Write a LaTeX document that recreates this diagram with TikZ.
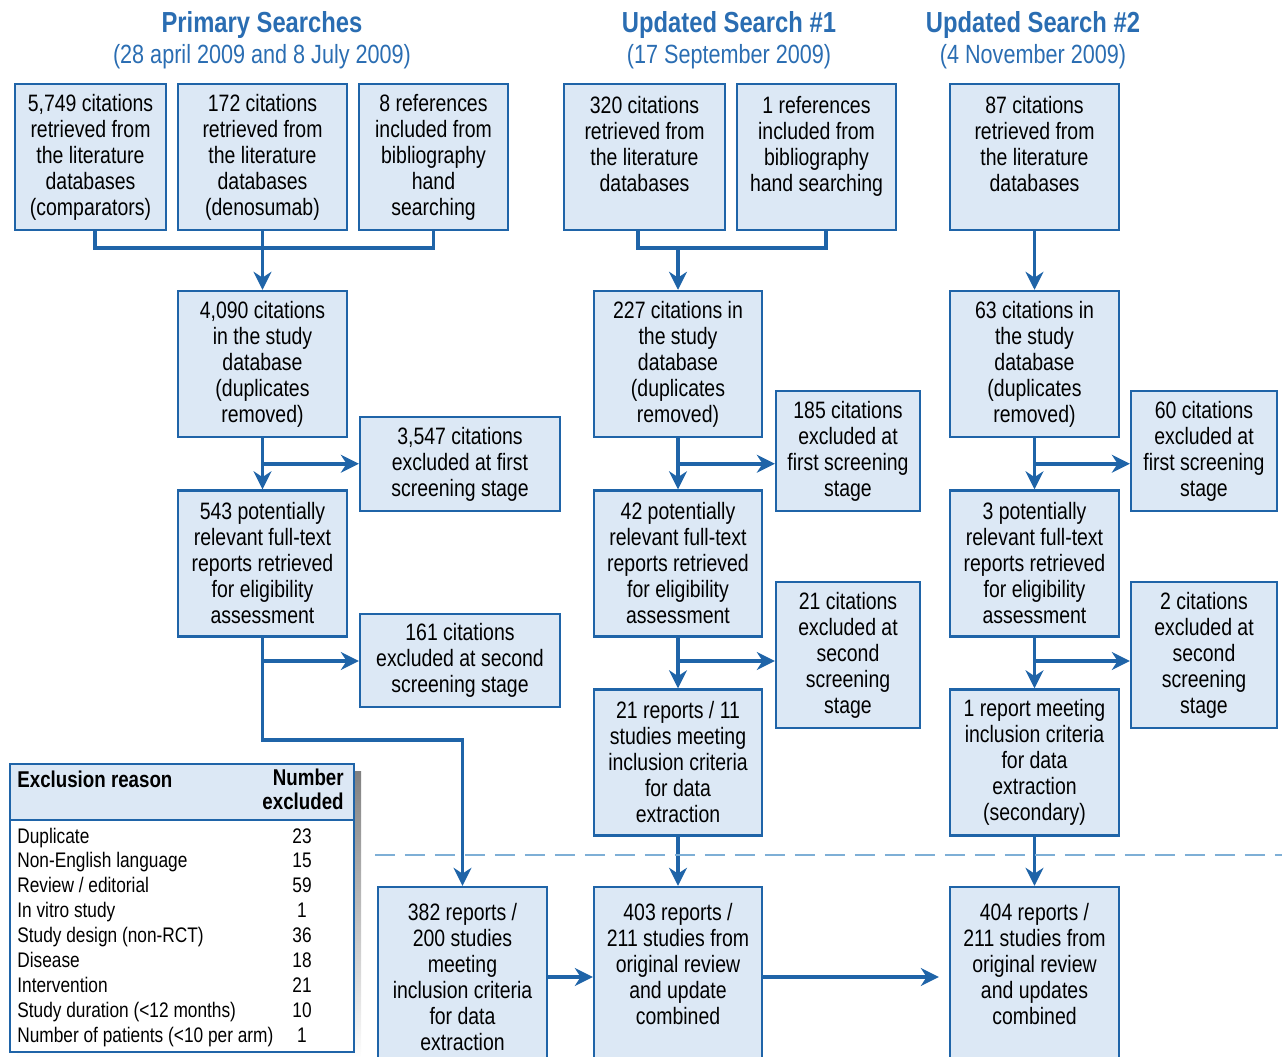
\documentclass[tikz,border=0pt]{standalone}
\usepackage{fontspec}
\setmainfont{Liberation Sans}[FakeStretch=0.82]
\usetikzlibrary{arrows.meta,calc}
\definecolor{boxfill}{HTML}{DCE8F5}
\definecolor{boxline}{HTML}{1F64A8}
\definecolor{headblue}{HTML}{2A6DB2}
\definecolor{dashblue}{HTML}{7EAFD6}
\definecolor{shade}{HTML}{7FA6CC}
\begin{document}
\begin{tikzpicture}[x=0.02cm,y=-0.02cm,
    stage/.style={draw=boxline,fill=boxfill,line width=1.4pt,align=center,inner sep=2pt,
      minimum height=2.92cm,font=\fontsize{13.5pt}{14.8pt}\selectfont},
    flow/.style={draw=boxline,line width=2pt},
    arr/.style={flow,-{Stealth[length=0.36cm,width=0.36cm]}},
    heading/.style={text=headblue,font=\bfseries\fontsize{16.5pt}{18pt}\selectfont},
    subheading/.style={text=headblue,font=\fontsize{15pt}{17pt}\selectfont},
    tabhead/.style={inner sep=0pt,font=\bfseries\fontsize{13pt}{13.7pt}\selectfont},
    tabrow/.style={inner sep=0pt,font=\fontsize{12pt}{13pt}\selectfont}]
  \useasboundingbox (0,0) rectangle (1282,1057);
  \node[heading] (hA) at (262,25) {Primary Searches};
  \node[subheading] (sA) at (262,57) {(28 april 2009 and 8 July 2009)};
  \node[heading] (hB) at (729,25) {Updated Search \#1};
  \node[subheading] (sB) at (729,57) {(17 September 2009)};
  \node[heading] (hC) at (1033,25) {Updated Search \#2};
  \node[subheading] (sC) at (1033,57) {(4 November 2009)};

  \node[stage,minimum width=3.02cm] (A1) at (90.5,157) {5,749 citations\\retrieved from\\the literature\\databases\\(comparators)};
  \node[stage,minimum width=3.38cm] (A2) at (262.5,157) {172 citations\\retrieved from\\the literature\\databases\\(denosumab)};
  \node[stage,minimum width=2.98cm] (A3) at (433.5,157) {8 references\\included from\\bibliography\\hand\\searching};
  \node[stage,minimum width=3.22cm] (B1) at (644.5,157) {320 citations\\retrieved from\\the literature\\databases\\\mbox{}};
  \node[stage,minimum width=3.18cm] (B2) at (816.5,157) {1 references\\included from\\bibliography\\hand searching\\\mbox{}};
  \node[stage,minimum width=3.38cm] (C1) at (1034.5,157) {87 citations\\retrieved from\\the literature\\databases\\\mbox{}};

  \node[stage,minimum width=3.38cm] (A4) at (262.5,364) {4,090 citations\\in the study\\database\\(duplicates\\removed)};
  \node[stage,minimum width=3.36cm] (B3) at (678,364) {227 citations in\\the study\\database\\(duplicates\\removed)};
  \node[stage,minimum width=3.38cm] (C2) at (1034.5,364) {63 citations in\\the study\\database\\(duplicates\\removed)};

  \node[stage,minimum width=4cm,minimum height=1.88cm] (A5) at (460,464) {3,547 citations\\excluded at first\\screening stage};
  \node[stage,minimum width=2.88cm,minimum height=2.4cm] (B4) at (848,451) {185 citations\\excluded at\\first screening\\stage};
  \node[stage,minimum width=2.92cm,minimum height=2.4cm] (C3) at (1204,451) {60 citations\\excluded at\\first screening\\stage};

  \node[stage,minimum width=3.38cm] (A6) at (262.5,563.5) {543 potentially\\relevant full-text\\reports retrieved\\for eligibility\\assessment};
  \node[stage,minimum width=3.36cm] (B5) at (678,563.5) {42 potentially\\relevant full-text\\reports retrieved\\for eligibility\\assessment};
  \node[stage,minimum width=3.38cm] (C4) at (1034.5,563.5) {3 potentially\\relevant full-text\\reports retrieved\\for eligibility\\assessment};

  \node[stage,minimum width=4cm,minimum height=1.86cm] (A7) at (460,660.5) {161 citations\\excluded at second\\screening stage};
  \node[stage,minimum width=2.88cm] (B6) at (848,655) {21 citations\\excluded at\\second\\screening\\stage};
  \node[stage,minimum width=2.92cm] (C5) at (1204,655) {2 citations\\excluded at\\second\\screening\\stage};

  \node[stage,minimum width=3.36cm] (B7) at (678,762.5) {21 reports / 11\\studies meeting\\inclusion criteria\\for data\\extraction};
  \node[stage,minimum width=3.38cm] (C6) at (1034.5,762.5) {1 report meeting\\inclusion criteria\\for data\\extraction\\(secondary)};

  \node[stage,minimum width=3.38cm,minimum height=3.6cm] (D1) at (462.5,977) {382 reports /\\200 studies\\meeting\\inclusion criteria\\for data\\extraction};
  \node[stage,minimum width=3.36cm,minimum height=3.6cm] (D2) at (678,977) {403 reports /\\211 studies from\\original review\\and update\\combined\\\mbox{}};
  \node[stage,minimum width=3.38cm,minimum height=3.6cm] (D3) at (1034.5,977) {404 reports /\\211 studies from\\original review\\and updates\\combined\\\mbox{}};

  \coordinate (jA) at (262.5,248);
  \coordinate (jB) at (678,248);
  \coordinate (a1) at ($(A4.south)!.5!(A6.north)$);
  \coordinate (b1) at ($(B3.south)!.5!(B5.north)$);
  \coordinate (c1) at ($(C2.south)!.5!(C4.north)$);
  \coordinate (a2) at (262.5,661);
  \coordinate (b2) at (678,661);
  \coordinate (c2) at (1034.5,661);
  \coordinate (bendA) at (462.5,740);

  \begin{scope}[arr]
    \draw[flow,-] ([xshift=0.09cm]A1.south) |- (jA) -| (A3.south);
    \draw (A2.south) to (A4.north);
    \draw[flow,-] ([xshift=-0.13cm]B1.south) |- (jB) -| ([xshift=0.19cm]B2.south);
    \draw (jB) to (B3.north);
    \draw (C1.south) to (C2.north);
    \draw (A4.south) to (A6.north);
    \draw (B3.south) to (B5.north);
    \draw (C2.south) to (C4.north);
    \draw (a1) to (a1 -| A5.west);
    \draw (b1) to (b1 -| B4.west);
    \draw (c1) to (c1 -| C3.west);
    \draw (A6.south) |- (bendA) -- (D1.north);
    \draw (B5.south) to (B7.north);
    \draw (C4.south) to (C6.north);
    \draw (a2) to (a2 -| A7.west);
    \draw (b2) to (b2 -| B6.west);
    \draw (c2) to (c2 -| C5.west);
    \draw (B7.south) to (D2.north);
    \draw (C6.south) to (D3.north);
    \draw (D1.east) to (D2.west);
    \draw[shorten >=0.2cm] (D2.east) to (D3.west);
  \end{scope}

  \draw[dashblue,line width=1.3pt,dash pattern=on 0.4cm off 0.2cm] (375,855) -- (1282,855);

  \fill[shade] (17,771) rectangle (361,1059);
  \draw[draw=boxline,fill=white,line width=1.2pt] (10,764) rectangle (354,1052);
  \draw[draw=boxline,fill=boxfill,line width=1.2pt] (10,764) rectangle (354,820);
  \node[tabhead,anchor=base west] (reason) at (17,787) {Exclusion reason};
  \node[tabhead,align=right,anchor=north east] (numhead) at (344,769) {Number\\excluded};
  \foreach \why/\n [count=\i from 0] in {Duplicate/23,Non-English language/15,{Review / editorial}/59,
      In vitro study/1,Study design (non-RCT)/36,Disease/18,Intervention/21,
      Study duration (<12 months)/10,Number of patients (<10 per arm)/1} {
    \node[tabrow,anchor=base west] (why\i) at (17,{843+\i*24.9}) {\why};
    \node[tabrow,anchor=base] (n\i) at (302,{843+\i*24.9}) {\n};
  }
\end{tikzpicture}
\end{document}
